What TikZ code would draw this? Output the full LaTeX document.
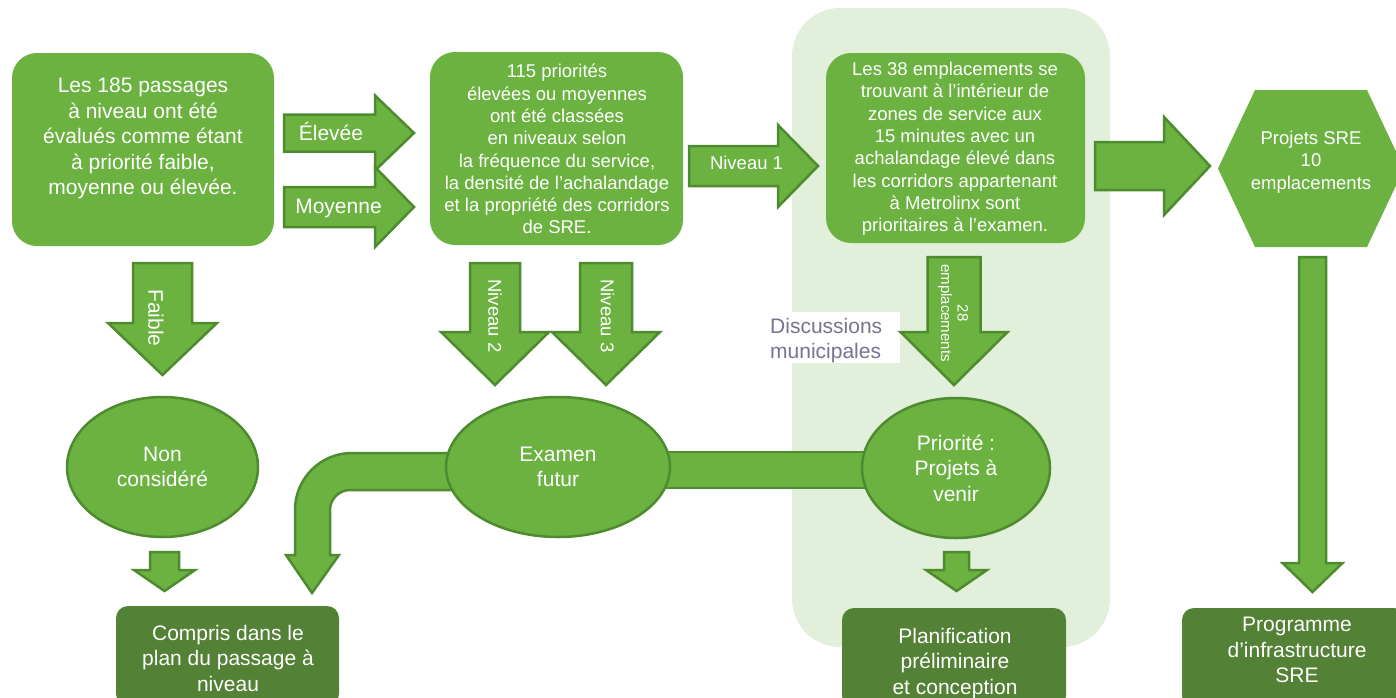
\documentclass[tikz,border=0pt]{standalone}
\usepackage{fontspec}
\setmainfont{Liberation Sans}
\usetikzlibrary{shapes.geometric}
\definecolor{gmain}{HTML}{6BB241}
\definecolor{gborder}{HTML}{4E8B2E}
\definecolor{gdark}{HTML}{538135}
\definecolor{gpanel}{HTML}{E2EFDA}
\definecolor{discuss}{HTML}{7A7290}
\newcommand{\fsA}{\fontsize{21}{25.5}\selectfont}
\newcommand{\fsB}{\fontsize{18.5}{22.3}\selectfont}
\newcommand{\fsS}{\fontsize{15}{16.5}\selectfont}
\newcommand{\RArr}[6]{\draw[arr] (#1,#4-#5) -- (#2,#4-#5) -- (#2,#4-#6) -- (#3,#4) -- (#2,#4+#6) -- (#2,#4+#5) -- (#1,#4+#5) -- cycle;}
\newcommand{\DArr}[6]{\draw[arr] (#1-#5,#2) -- (#1-#5,#3) -- (#1-#6,#3) -- (#1,#4) -- (#1+#6,#3) -- (#1+#5,#3) -- (#1+#5,#2) -- cycle;}
\tikzset{
  box/.style={fill=gmain, rounded corners=25, draw=none, inner sep=0},
  dbox/.style={fill=gdark, rounded corners=12, draw=none, inner sep=0},
  txt/.style={text=white, align=center, inner sep=0, anchor=north},
  arr/.style={fill=gmain, draw=gborder, line width=2.5pt, line join=miter},
  oval/.style={ellipse, fill=gmain, draw=gborder, line width=2.5pt, inner sep=0, text=white, align=center, font=\fsA},
  lbl/.style={text=white, inner sep=0},
}
\begin{document}
\begin{tikzpicture}[x=1pt,y=-1pt]
\useasboundingbox (0,0) rectangle (1396,697);
% background panel
\fill[gpanel, rounded corners=48] (792,8) rectangle (1110,647);

% main boxes
\node[box, minimum width=262, minimum height=193] (A) at (143,149.5) {};
\node[txt, font=\fsA] (Atxt) at (143,78) {Les 185 passages\\à niveau ont été\\évalués comme étant\\à priorité faible,\\moyenne ou élevée.};

\node[box, minimum width=253, minimum height=193] (B) at (556.5,148.5) {};
\node[txt, font=\fsB] (Btxt) at (557,64) {115 priorités\\élevées ou moyennes\\ont été classées\\en niveaux selon\\la fréquence du service,\\la densité de l’achalandage\\et la propriété des corridors\\de SRE.};

\node[box, minimum width=259, minimum height=190] (C) at (955.5,148) {};
\node[txt, font=\fsB] (Ctxt) at (955,62) {Les 38 emplacements se\\trouvant à l’intérieur de\\zones de service aux\\15 minutes avec un\\achalandage élevé dans\\les corridors appartenant\\à Metrolinx sont\\prioritaires à l’examen.};

% hexagon
\fill[gmain] (1218,168.5) -- (1255,90) -- (1367,90) -- (1404,168.5) -- (1367,247) -- (1255,247) -- cycle;
\node[txt, font=\fsB] (H) at (1311,131) {Projets SRE\\10\\emplacements};

% horizontal arrows
\RArr{284}{375}{414}{133}{18.5}{37.5}
\RArr{284}{375}{414}{207}{20}{40}
\node[lbl, font=\fsA, anchor=base] (lE) at (331,140) {Élevée};
\node[lbl, font=\fsA, anchor=base] (lM) at (338.5,213) {Moyenne};

\RArr{689}{778}{818}{166}{20}{41}
\node[lbl, font=\fsB, anchor=base] (l1) at (746.5,169) {Niveau 1};

\RArr{1095}{1164}{1210}{166}{24}{49}

% discussions label
\fill[white] (766,312) rectangle (900,363);
\node[anchor=north west, inner sep=0, align=left, font=\fsA, text=discuss] (D) at (770,318) {Discussions\\municipales};

% down arrows
\DArr{162.5}{263}{323}{375}{29.5}{54.5}
\node[lbl, font=\fsA, rotate=-90] (lF) at (156,318) {Faible};
\DArr{495}{263}{332}{385}{25}{54}
\node[lbl, font=\fsB, rotate=-90] (l2) at (495,316) {Niveau 2};
\DArr{606}{263}{332}{385}{26}{54}
\node[lbl, font=\fsB, rotate=-90] (l3) at (607.5,316) {Niveau 3};
\DArr{954}{257}{332}{385}{26.5}{53.5}
\node[lbl, font=\fsS, rotate=-90, align=center] (l28) at (953,313) {28\\emplacements};
\DArr{1312.5}{257}{563}{592}{13.5}{30}

% lower connectors
\draw[arr] (640,452) rectangle (880,488);
\draw[arr] (470,453) -- (352,453) .. controls (320.5,453) and (295,478.5) .. (295,510) -- (295,555) -- (286,555) -- (312,593) -- (339,555) -- (330,555) -- (330,510) .. controls (330,499) and (339,490) .. (350,490) -- (470,490) -- cycle;

% ovals
\node[oval, minimum width=191, minimum height=140] (N) at (162.5,467) {Non\\considéré};
\node[oval, minimum width=224, minimum height=140] (E) at (558,467) {Examen\\futur};
\node[oval, minimum width=188, minimum height=140] (P) at (956,468) {Priorité :\\Projets à\\venir};

\DArr{164.5}{552}{570}{591}{14.5}{30.5}
\DArr{956.5}{552}{570}{591}{12.5}{30.5}

% bottom boxes
\node[dbox, minimum width=223, minimum height=100] (K1) at (227.5,656) {};
\node[txt, font=\fsA] (K1t) at (228,625) {Compris dans le\\plan du passage à\\niveau};
\node[dbox, minimum width=224, minimum height=100] (K2) at (954,658) {};
\node[txt, font=\fsA] (K2t) at (955,628) {Planification\\préliminaire\\et conception};
\node[dbox, minimum width=224, minimum height=100] (K3) at (1294,658) {};
\node[txt, font=\fsA] (K3t) at (1297,617) {Programme\\d’infrastructure\\SRE};
\end{tikzpicture}
\end{document}
